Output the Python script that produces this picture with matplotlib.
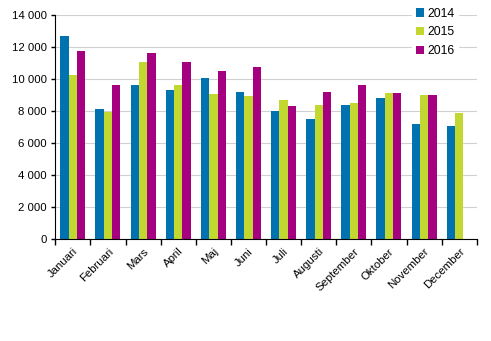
import matplotlib.pyplot as plt
import numpy as np

plt.rcParams['font.family'] = ['Liberation Sans', 'DejaVu Sans']

months = ['Januari', 'Februari', 'Mars', 'April', 'Maj', 'Juni', 'Juli',
          'Augusti', 'September', 'Oktober', 'November', 'December']
v2014 = [12700, 8150, 9640, 9330, 10080, 9210, 8020, 7520, 8390, 8830, 7210, 7080]
v2015 = [10270, 7980, 11080, 9640, 9080, 8960, 8710, 8390, 8520, 9140, 9020, 7890]
v2016 = [11770, 9640, 11640, 11080, 10520, 10770, 8330, 9210, 9640, 9140, 9020, np.nan]
years = ['2014', '2015', '2016']
colors = ['#0072b0', '#c2d831', '#a4007f']

fig = plt.figure(figsize=(4.91, 3.41), dpi=100)
ax = fig.add_axes([0.1126, 0.2982, 0.8584, 0.6569])

x = np.arange(len(months))
w = 0.237
for i, (vals, lab, c) in enumerate(zip([v2014, v2015, v2016], years, colors)):
    ax.bar(x + (i - 1) * w, vals, width=w, color=c, label=lab, zorder=2)

ax.set_xlim(-0.5, len(months) - 0.5)
ax.set_ylim(0, 14000)
ax.set_yticks(range(0, 14001, 2000))
ax.set_yticklabels([f'{v:,}'.replace(',', ' ') for v in range(0, 14001, 2000)])
ax.yaxis.grid(True, color='#d0d0d0', linewidth=0.8, zorder=0)

# ticks sit between the month groups, labels at group centres
ax.set_xticks(np.arange(-0.5, len(months)), minor=False)
ax.set_xticklabels([])
ax.set_xticks(x, minor=True)
ax.set_xticklabels(months, minor=True, rotation=45, ha='right',
                   rotation_mode='anchor')
ax.tick_params(axis='x', which='minor', length=0, pad=5, labelsize=8.2)
ax.tick_params(axis='x', which='major', length=4, width=1, color='black')
ax.tick_params(axis='y', length=3, width=1, labelsize=8.2, pad=3)

for s in ['top', 'right']:
    ax.spines[s].set_visible(False)
ax.spines['left'].set_color('black')
ax.spines['bottom'].set_color('black')

leg = ax.legend(loc='upper right', bbox_to_anchor=(0.955, 1.05), frameon=True,
                fontsize=8.8, handlelength=0.65, handleheight=0.65,
                handletextpad=0.25, labelspacing=0.55, borderpad=0.3,
                borderaxespad=0)
leg.get_frame().set_edgecolor('white')
leg.get_frame().set_facecolor('white')
leg.get_frame().set_alpha(1)

fig.savefig('out.png', dpi=100)
